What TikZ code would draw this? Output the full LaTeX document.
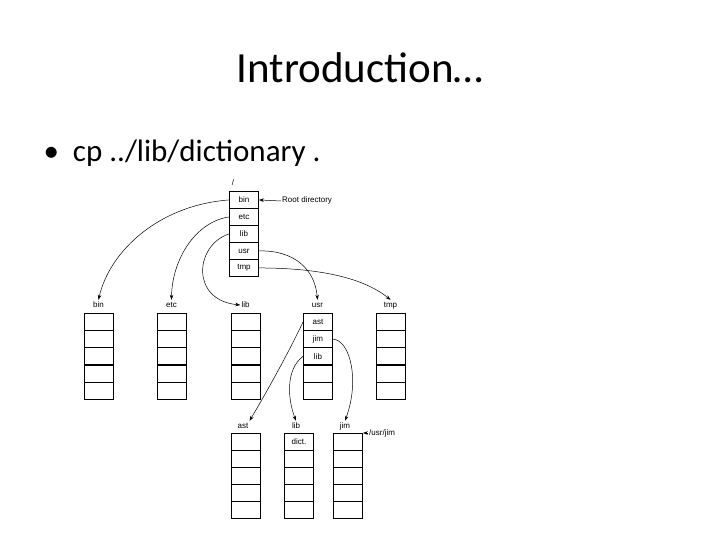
\documentclass[tikz,border=0pt]{standalone}
\usepackage{fontspec}
\setmainfont{Carlito}
\newfontfamily\diag{Liberation Sans}
\usetikzlibrary{arrows.meta}
\begin{document}
\begin{tikzpicture}[x=1pt,y=-1pt,
  cell/.style={draw,line width=0.9pt,minimum width=29pt,minimum height=17pt,inner sep=0pt,font=\diag\fontsize{8}{9}\selectfont,anchor=north west},
  lbl/.style={font=\diag\fontsize{8}{9}\selectfont,inner sep=1pt,text height=6pt,text depth=2pt},
  arr/.style={-{Stealth[length=5pt,width=3.5pt]},line width=0.5pt}]
\useasboundingbox (0,0) rectangle (720,540);
\node[font=\fontsize{43}{50}\selectfont] (title) at (360,68) {Introduction…};
\node[font=\fontsize{31}{36}\selectfont,anchor=west] (bullet) at (40,153) {•\ \ cp ../lib/dictionary .};
% root
\foreach \t [count=\i from 0] in {bin,etc,lib,usr,tmp}
  \node[cell] (r\i) at (229,{191+17*\i}) {\t};
\node[lbl] (slash) at (233,184) {/};
\node[lbl,anchor=west] (rootlbl) at (281,201) {Root directory};
\draw[arr] (rootlbl.west) -- (r0.east);
% level 2
\foreach \n/\x in {bin/84,etc/157,lib/231,usr/303,tmp/376}{
  \node[lbl] (L\n) at ({\x+14.5},305) {\n};
  \foreach \i in {0,...,4} \node[cell] (\n\i) at (\x,{313+17.2*\i}) {};
}
\node[font=\diag\fontsize{8}{9}\selectfont] at (usr0) {ast};
\node[font=\diag\fontsize{8}{9}\selectfont] at (usr1) {jim};
\node[font=\diag\fontsize{8}{9}\selectfont] at (usr2) {lib};
% level 3
\foreach \n/\x in {ast/231,lib/284,jim/333}{
  \node[lbl] (M\n) at ({\x+12},426) {\n};
  \foreach \i in {0,...,4} \node[cell] (m\n\i) at (\x,{433+17.1*\i}) {};
}
\node[font=\diag\fontsize{8}{9}\selectfont] at (mlib0) {dict.};
\node[lbl,anchor=west] (usrjim) at (368,433) {/usr/jim};
\draw[arr] (usrjim.west) -- (mjim0.north east);
% arrows root
\draw[arr] (r0.west) .. controls (160,205) and (110,250) .. (Lbin.north);
\draw[arr] (r1.west) .. controls (195,222) and (172,260) .. (Letc.north);
\draw[arr] (r2.west) .. controls (195,245) and (190,300) .. (Llib.west);
\draw[arr] (r3.east) .. controls (295,250) and (315,270) .. (Lusr.north);
\draw[arr] (r4.east) .. controls (310,268) and (360,275) .. (Ltmp.north);
% arrows usr
\draw[arr] (usr0.west) .. controls (290,350) and (265,395) .. (Mast.north east);
\draw[arr] (usr2.west) .. controls (285,370) and (288,400) .. (Mlib.north);
\draw[arr] (usr1.east) .. controls (350,340) and (360,380) .. (Mjim.north);
\end{tikzpicture}
\end{document}
